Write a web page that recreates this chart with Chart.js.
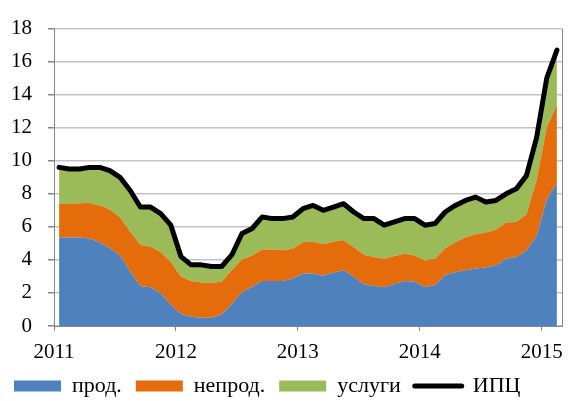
<!DOCTYPE html>
<html>
<head>
<meta charset="utf-8">
<script src="https://cdn.jsdelivr.net/npm/chart.js@4"></script>
<style>
  html, body { margin: 0; padding: 0; background: #fff; }
  #wrap { width: 573px; height: 401px; position: relative; }
</style>
</head>
<body>
<div id="wrap"><canvas id="chart"></canvas></div>
<script>
// monthly, Jan 2011 .. Feb 2015, contributions to CPI y/y, p.p.
const years = ['2011', '2012', '2013', '2014', '2015'];
const yearTicks = [0, 12, 24, 36, 48];

const food = [5.36, 5.36, 5.36, 5.30, 5.07, 4.70, 4.27, 3.30, 2.42, 2.35, 1.99, 1.29,
              0.73, 0.56, 0.50, 0.50, 0.70, 1.33, 2.04, 2.38, 2.72, 2.72, 2.72, 2.88,
              3.18, 3.18, 3.04, 3.24, 3.38, 2.98, 2.52, 2.42, 2.35, 2.54, 2.72, 2.68,
              2.36, 2.48, 3.08, 3.25, 3.38, 3.48, 3.54, 3.67, 4.07, 4.17, 4.57, 5.46,
              7.65, 8.64];
const nonfood = [2.03, 2.03, 2.07, 2.15, 2.22, 2.35, 2.29, 2.40, 2.48, 2.46, 2.48, 2.58,
                 2.25, 2.16, 2.14, 2.12, 1.98, 2.05, 1.99, 1.89, 1.91, 1.91, 1.87, 1.79,
                 1.89, 1.92, 1.91, 1.86, 1.82, 1.79, 1.79, 1.75, 1.72, 1.69, 1.65, 1.59,
                 1.61, 1.59, 1.63, 1.82, 1.98, 2.08, 2.12, 2.15, 2.19, 2.13, 2.18, 3.38,
                 4.37, 4.76];
const services = [2.21, 2.11, 2.07, 2.15, 2.31, 2.35, 2.44, 2.50, 2.30, 2.39, 2.33, 2.23,
                  1.22, 0.98, 1.06, 0.98, 0.92, 0.92, 1.57, 1.63, 1.97, 1.87, 1.91, 1.93,
                  2.03, 2.20, 2.05, 2.10, 2.20, 2.13, 2.19, 2.33, 2.03, 2.07, 2.13, 2.23,
                  2.13, 2.13, 2.19, 2.23, 2.24, 2.24, 1.84, 1.78, 1.74, 2.00, 2.35, 2.56,
                  2.98, 3.30];
const cpi = [9.6, 9.5, 9.5, 9.6, 9.6, 9.4, 9.0, 8.2, 7.2, 7.2, 6.8, 6.1,
             4.2, 3.7, 3.7, 3.6, 3.6, 4.3, 5.6, 5.9, 6.6, 6.5, 6.5, 6.6,
             7.1, 7.3, 7.0, 7.2, 7.4, 6.9, 6.5, 6.5, 6.1, 6.3, 6.5, 6.5,
             6.1, 6.2, 6.9, 7.3, 7.6, 7.8, 7.5, 7.6, 8.0, 8.3, 9.1, 11.4,
             15.0, 16.7];

const seriesNames = ['прод.', 'непрод.', 'услуги', 'ИПЦ'];
const colors = ['#4F81BD', '#E46C0A', '#9BBB59', '#000000'];

// each month sits in the middle of its slot, years on the slot edges
const pts = arr => arr.map((v, i) => ({ x: i + 0.5, y: v }));

const serif = 'Liberation Serif, Times New Roman, serif';
const axisGray = '#868686';
const gridGray = '#C4C4C4';

// right frame line of the plot area
const frame = {
    id: 'frame',
    afterDraw(chart) {
        const { ctx, chartArea } = chart;
        ctx.save();
        ctx.strokeStyle = axisGray;
        ctx.lineWidth = 1;
        ctx.beginPath();
        ctx.moveTo(chartArea.right + 0.5, chartArea.top);
        ctx.lineTo(chartArea.right + 0.5, chartArea.bottom);
        ctx.stroke();
        ctx.restore();
    }
};

new Chart(document.getElementById('chart'), {
    type: 'line',
    data: {
        datasets: [
            { label: seriesNames[0], data: pts(food), backgroundColor: colors[0], borderWidth: 0, fill: 'origin', order: 1 },
            { label: seriesNames[1], data: pts(nonfood), backgroundColor: colors[1], borderWidth: 0, fill: '-1', order: 1 },
            { label: seriesNames[2], data: pts(services), backgroundColor: colors[2], borderWidth: 0, fill: '-1', order: 1 },
            { label: seriesNames[3], data: pts(cpi), borderColor: colors[3], borderWidth: 5, fill: false,
              stack: 'cpi', order: 0, borderJoinStyle: 'round', borderCapStyle: 'round' }
        ]
    },
    options: {
        responsive: true,
        maintainAspectRatio: false,
        animation: false,
        elements: { point: { radius: 0 }, line: { tension: 0 } },
        layout: { padding: { left: 0, right: 11, top: 23, bottom: -6 } },
        scales: {
            x: {
                type: 'linear',
                min: 0,
                max: 50,
                afterBuildTicks: scale => { scale.ticks = yearTicks.map(v => ({ value: v })); },
                afterFit: scale => { scale.height = 35; },
                ticks: {
                    callback: v => years[yearTicks.indexOf(v)],
                    font: { family: serif, size: 21 },
                    color: '#000',
                    padding: 9,
                    maxRotation: 0,
                    autoSkip: false
                },
                grid: { drawOnChartArea: false, drawTicks: true, tickLength: 5, color: axisGray },
                border: { color: axisGray, width: 1 }
            },
            y: {
                stacked: true,
                min: 0,
                max: 18,
                afterFit: scale => { scale.width = 54; },
                ticks: {
                    stepSize: 2,
                    font: { family: serif, size: 21 },
                    color: '#000',
                    padding: 16
                },
                grid: { color: gridGray, lineWidth: 1.5, tickLength: 6, tickColor: axisGray },
                border: { color: axisGray, width: 1 }
            }
        },
        plugins: {
            legend: {
                position: 'bottom',
                align: 'start',
                labels: {
                    font: { family: serif, size: 22 },
                    color: '#000',
                    usePointStyle: true,
                    pointStyleWidth: 47,
                    boxHeight: 11,
                    padding: 14,
                    generateLabels: chart => chart.data.datasets.map((ds, i) => ({
                        text: ds.label,
                        datasetIndex: i,
                        fillStyle: colors[i],
                        strokeStyle: colors[i],
                        lineWidth: i === 3 ? 5 : 0,
                        lineCap: 'round',
                        pointStyle: i === 3 ? 'line' : 'rect',
                        fontColor: '#000'
                    }))
                }
            },
            tooltip: { enabled: false }
        }
    },
    plugins: [frame]
});
</script>
</body>
</html>
